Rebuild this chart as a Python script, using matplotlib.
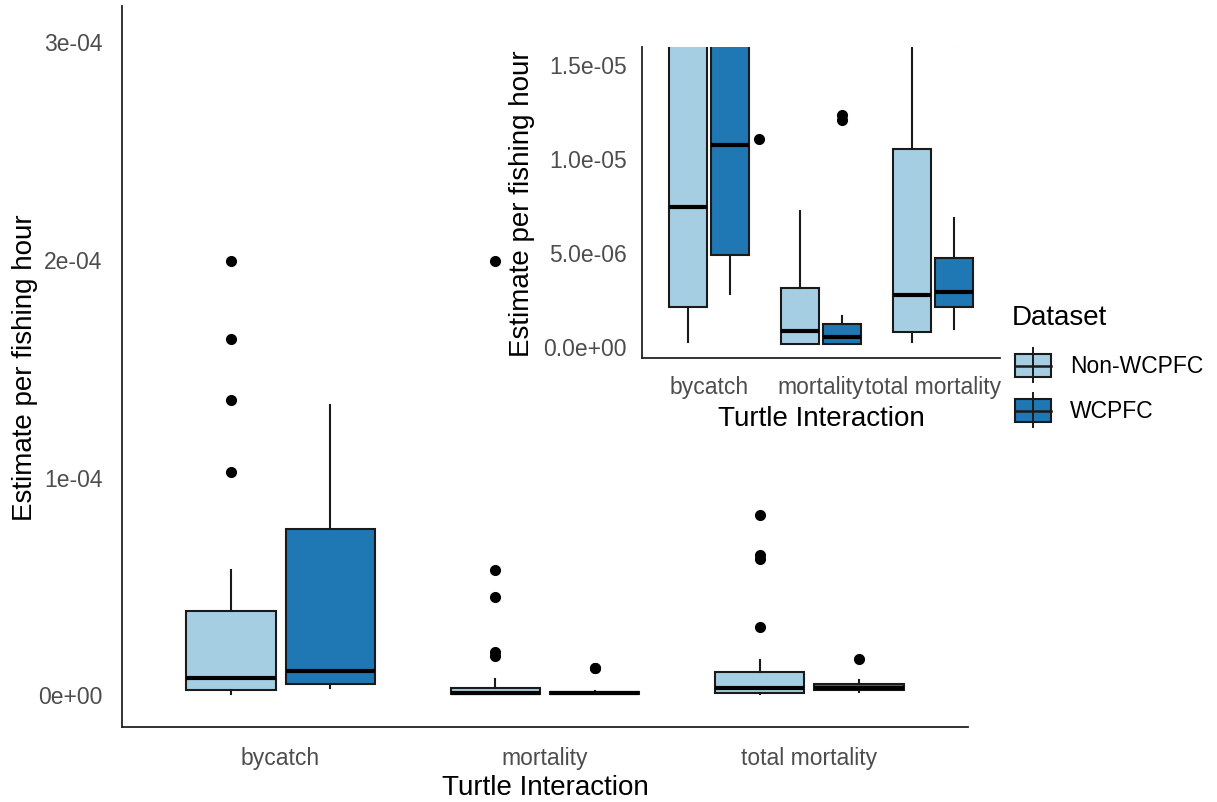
import numpy as np
import matplotlib
matplotlib.use("Agg")
import matplotlib.pyplot as plt
from matplotlib.patches import Rectangle

plt.rcParams['font.family'] = ['Liberation Sans', 'DejaVu Sans']

categories = ["bycatch", "mortality", "total mortality"]
datasets = ["Non-WCPFC", "WCPFC"]
colors = ["#A6CEE3", "#1F78B4"]

# box statistics per interaction type (estimate per fishing hour)
non_wcpfc_whislo = [0.18e-6, 0.10e-6, 0.18e-6]
non_wcpfc_q1 = [2.04e-6, 0.10e-6, 0.71e-6]
non_wcpfc_med = [7.41e-6, 0.77e-6, 2.68e-6]
non_wcpfc_q3 = [3.82e-5, 3.10e-6, 1.046e-5]
non_wcpfc_whishi = [5.72e-5, 7.18e-6, 1.59e-5]
non_wcpfc_fliers = [[1.02e-4, 1.35e-4, 1.63e-4, 1.99e-4],
                    [1.75e-5, 1.93e-5, 4.45e-5, 5.69e-5, 1.99e-4],
                    [3.11e-5, 6.21e-5, 6.38e-5, 8.21e-5]]

wcpfc_whislo = [2.75e-6, 0.09e-6, 0.89e-6]
wcpfc_q1 = [4.84e-6, 0.09e-6, 2.04e-6]
wcpfc_med = [1.068e-5, 0.45e-6, 2.84e-6]
wcpfc_q3 = [7.58e-5, 1.15e-6, 4.66e-6]
wcpfc_whishi = [1.328e-4, 1.60e-6, 6.78e-6]
wcpfc_fliers = [[], [1.20e-5, 1.23e-5], [1.62e-5]]

# single extra point that only shows up in the zoomed panel
inset_point_cat = 0
inset_point_y = 1.103e-5

main_yticks = [0, 1e-4, 2e-4, 3e-4]
main_ylabels = ["0e+00", "1e-04", "2e-04", "3e-04"]
inset_yticks = [0, 5e-6, 1e-5, 1.5e-5]
inset_ylabels = ["0.0e+00", "5.0e-06", "1.0e-05", "1.5e-05"]

TICK = 16.5
TITLE = 20
GREY = "#4D4D4D"


def stats_for(wl, q1, med, q3, wh, fl):
    return [dict(whislo=wl[i], q1=q1[i], med=med[i], q3=q3[i], whishi=wh[i], fliers=fl[i])
            for i in range(len(categories))]


groups = [
    stats_for(non_wcpfc_whislo, non_wcpfc_q1, non_wcpfc_med, non_wcpfc_q3, non_wcpfc_whishi, non_wcpfc_fliers),
    stats_for(wcpfc_whislo, wcpfc_q1, wcpfc_med, wcpfc_q3, wcpfc_whishi, wcpfc_fliers),
]


def draw_boxes(ax):
    base = np.arange(1, len(categories) + 1)
    for j, st in enumerate(groups):
        pos = base + (j - 0.5) * 0.375
        res = ax.bxp(st, positions=pos, widths=0.3375, patch_artist=True, showcaps=False,
                     boxprops=dict(edgecolor="#1a1a1a", linewidth=1.5),
                     whiskerprops=dict(color="#1a1a1a", linewidth=1.5),
                     medianprops=dict(color="black", linewidth=3.0),
                     flierprops=dict(marker="o", markerfacecolor="black", markeredgecolor="black",
                                     markersize=7))
        for b in res["boxes"]:
            b.set_facecolor(colors[j])
    ax.set_xlim(0.4, 3.6)
    ax.set_xticks(base)
    ax.set_xticklabels(categories)
    for s in ["top", "right"]:
        ax.spines[s].set_visible(False)
    for s in ["left", "bottom"]:
        ax.spines[s].set_linewidth(1.3)
        ax.spines[s].set_color("#222222")
    ax.tick_params(axis="both", length=0, labelsize=TICK, labelcolor=GREY)
    ax.set_xlabel("Turtle Interaction", fontsize=TITLE)
    ax.set_ylabel("Estimate per fishing hour", fontsize=TITLE)


fig = plt.figure(figsize=(12.17, 8.03), dpi=100)

ax = fig.add_axes([122 / 1217, 75 / 803, 846 / 1217, 721 / 803])
draw_boxes(ax)
ax.set_ylim(-0.15e-4, 3.16e-4)
ax.set_yticks(main_yticks)
ax.set_yticklabels(main_ylabels)
ax.tick_params(axis="x", pad=14)
ax.tick_params(axis="y", pad=14)
ax.xaxis.labelpad = 3
ax.yaxis.labelpad = 0

axi = fig.add_axes([642 / 1217, 444 / 803, 358 / 1217, 311 / 803], facecolor="white")
draw_boxes(axi)
axi.plot(inset_point_cat + 1 + 0.445, inset_point_y, "o", color="black", markersize=7)
axi.set_ylim(-0.65e-6, 1.59e-5)
axi.set_yticks(inset_yticks)
axi.set_yticklabels(inset_ylabels)
axi.tick_params(axis="x", pad=12)
axi.tick_params(axis="y", pad=11)
axi.xaxis.labelpad = 5
axi.yaxis.labelpad = 6

# legend drawn in figure pixel space
leg = fig.add_axes([0, 0, 1, 1], facecolor="none")
leg.set_xlim(0, 1217)
leg.set_ylim(803, 0)
leg.axis("off")
leg.text(1012, 318, "Dataset", fontsize=TITLE, va="center", ha="left")
for j, name in enumerate(datasets):
    yc = 367 + j * 45
    leg.plot([1033, 1033], [yc - 18, yc + 16], color="#1a1a1a", lw=1.4)
    leg.add_patch(Rectangle((1015, yc - 12), 36, 23, facecolor=colors[j], edgecolor="#1a1a1a", lw=1.5))
    leg.plot([1015, 1051], [yc, yc], color="#1a1a1a", lw=1.8)
    leg.text(1070, yc, name, fontsize=TICK, va="center", ha="left")

fig.savefig("out.png", dpi=100)
